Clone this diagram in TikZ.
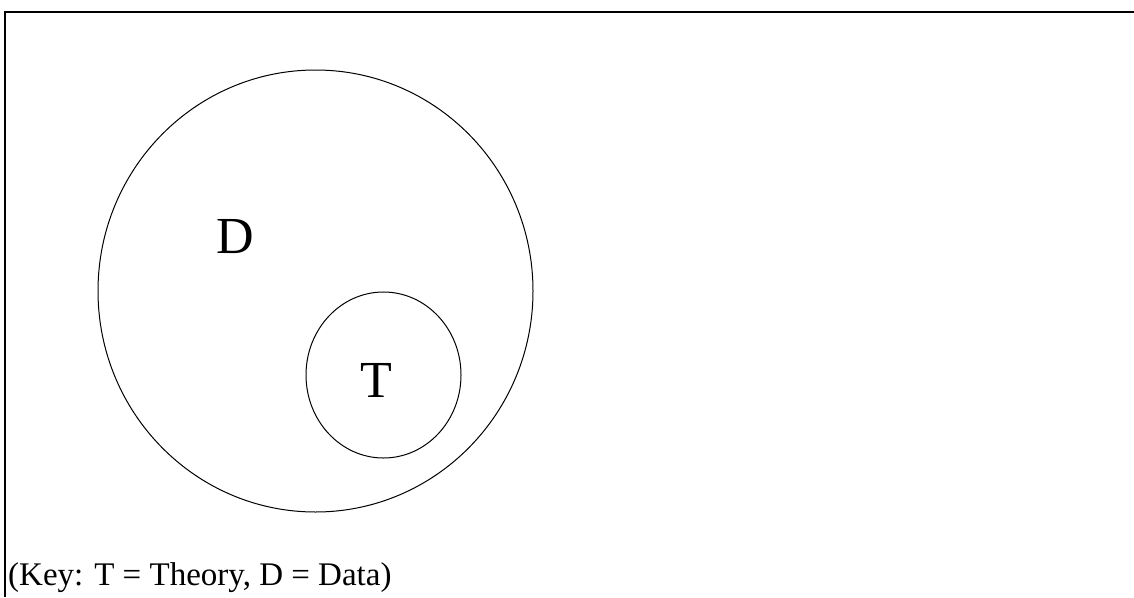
\documentclass[tikz,border=0pt]{standalone}
\usepackage{fontspec}
\setmainfont{Liberation Serif}
\usetikzlibrary{shapes.geometric}
\begin{document}
\begin{tikzpicture}[x=1pt,y=-1pt,
  setring/.style={ellipse, draw, line width=1pt, inner sep=0pt},
  biglabel/.style={font=\fontsize{52}{52}\selectfont, inner sep=0pt},
  keytext/.style={font=\fontsize{33}{33}\selectfont, inner sep=0pt, anchor=base west}]
\useasboundingbox (0,0) rectangle (1134,597);
\draw[line width=2pt] (5,597) -- (5,12) -- (1134,12);
\node[setring, minimum width=435pt, minimum height=442pt] (D) at (315.5,291) {};
\node[setring, minimum width=155pt, minimum height=166pt] (T) at (383.5,375) {};
\node[biglabel] (Dl) at (235.5,237) {D};
\node[biglabel] (Tl) at (376,380) {T};
\node[keytext] (key) at (8,585) {(Key: T = Theory, D = Data)};
\end{tikzpicture}
\end{document}
